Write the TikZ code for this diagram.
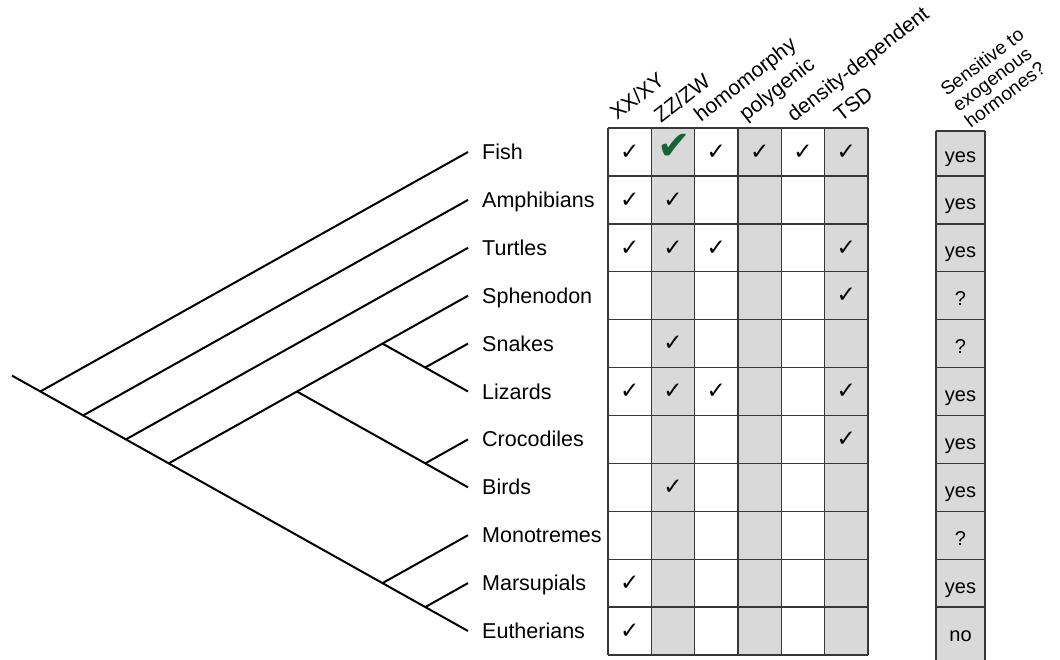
\documentclass[tikz,border=0pt]{standalone}
\usepackage{fontspec}
\setmainfont{Liberation Sans}
\newfontfamily\checkfont{DejaVu Sans}
\usepackage{tikz}

\definecolor{cellgray}{RGB}{217,217,217}
\definecolor{gridline}{RGB}{55,55,55}
\definecolor{checkgreen}{RGB}{22,100,52}

\begin{document}
\begin{tikzpicture}[x=1pt, y=-1pt,
    branch/.style={line width=2pt, black},
    cell/.style={line width=1.4pt, gridline},
    taxon/.style={anchor=west, inner xsep=14pt, inner ysep=0pt, text height=15pt, text depth=0pt, font=\fontsize{21.5}{25}\selectfont},
    trait/.style={anchor=base west, rotate=38, inner sep=0pt, font=\fontsize{21}{24}\selectfont},
    tick/.style={inner sep=0pt, font=\checkfont\bfseries\fontsize{23}{24}\selectfont},
    answer/.style={anchor=base, inner sep=0pt, font=\fontsize{20}{22}\selectfont}]
    \useasboundingbox (0,0) rectangle (1060,659);

    \coordinate (root) at (12,375.6);
    \coordinate (n1) at (40.3,391.5);
    \coordinate (n2) at (83.1,415.5);
    \coordinate (n3) at (125.9,439.4);
    \coordinate (n4) at (168.6,463.4);
    \coordinate (n5) at (296.9,391.5);
    \coordinate (n6) at (382.5,343.6);
    \coordinate (n7) at (425.2,367.5);
    \coordinate (n8) at (425.2,463.4);
    \coordinate (n9) at (382.5,583.1);
    \coordinate (n10) at (425.2,607.1);

    \node[taxon] (fish) at (468,152.0) {Fish};
    \node[taxon] (amph) at (468,199.9) {Amphibians};
    \node[taxon] (turt) at (468,247.8) {Turtles};
    \node[taxon] (sphen) at (468,295.7) {Sphenodon};
    \node[taxon] (snak) at (468,343.6) {Snakes};
    \node[taxon] (liz) at (468,391.5) {Lizards};
    \node[taxon] (croc) at (468,439.4) {Crocodiles};
    \node[taxon] (bird) at (468,487.3) {Birds};
    \node[taxon] (mono) at (468,535.2) {Monotremes};
    \node[taxon] (mars) at (468,583.1) {Marsupials};
    \node[taxon] (euth) at (468,631.0) {Eutherians};

    \draw[branch] (root) -- (euth.west);
    \draw[branch] (n1) -- (fish.west);
    \draw[branch] (n2) -- (amph.west);
    \draw[branch] (n3) -- (turt.west);
    \draw[branch] (n4) -- (sphen.west);
    \draw[branch] (n5) -- (bird.west);
    \draw[branch] (n6) -- (liz.west);
    \draw[branch] (n7) -- (snak.west);
    \draw[branch] (n8) -- (croc.west);
    \draw[branch] (n9) -- (mono.west);
    \draw[branch] (n10) -- (mars.west);

    \fill[cellgray] (651.3,128) rectangle (694.7,655);
    \fill[cellgray] (738,128) rectangle (781.3,655);
    \fill[cellgray] (824.7,128) rectangle (868,655);
    \fill[cellgray] (936,131) rectangle (985,662);

    \draw[cell] (608,128) -- (608,655);
    \draw[cell] (651.3,128) -- (651.3,655);
    \draw[cell] (694.7,128) -- (694.7,655);
    \draw[cell] (738,128) -- (738,655);
    \draw[cell] (781.3,128) -- (781.3,655);
    \draw[cell] (824.7,128) -- (824.7,655);
    \draw[cell] (868,128) -- (868,655);
    \draw[cell] (608,128) -- (868,128);
    \draw[cell] (608,175.9) -- (868,175.9);
    \draw[cell] (608,223.8) -- (868,223.8);
    \draw[cell] (608,271.7) -- (868,271.7);
    \draw[cell] (608,319.6) -- (868,319.6);
    \draw[cell] (608,367.5) -- (868,367.5);
    \draw[cell] (608,415.5) -- (868,415.5);
    \draw[cell] (608,463.4) -- (868,463.4);
    \draw[cell] (608,511.3) -- (868,511.3);
    \draw[cell] (608,559.2) -- (868,559.2);
    \draw[cell] (608,607.1) -- (868,607.1);
    \draw[cell] (608,655) -- (868,655);

    \draw[cell] (936,131) -- (936,662);
    \draw[cell] (985,131) -- (985,662);
    \draw[cell] (936,131) -- (985,131);
    \draw[cell] (936,175.9) -- (985,175.9);
    \draw[cell] (936,223.8) -- (985,223.8);
    \draw[cell] (936,271.7) -- (985,271.7);
    \draw[cell] (936,319.6) -- (985,319.6);
    \draw[cell] (936,367.5) -- (985,367.5);
    \draw[cell] (936,415.5) -- (985,415.5);
    \draw[cell] (936,463.4) -- (985,463.4);
    \draw[cell] (936,511.3) -- (985,511.3);
    \draw[cell] (936,559.2) -- (985,559.2);
    \draw[cell] (936,607.1) -- (985,607.1);

    \node[trait] (xx) at (617,121) {XX/XY};
    \node[trait] (zz) at (661,124) {ZZ/ZW};
    \node[trait] (homo) at (701,123) {homomorphy};
    \node[trait] (poly) at (746,122) {polygenic};
    \node[trait] (dens) at (794,123) {density-dependent};
    \node[trait] (tsd) at (841,123) {TSD};
    \node[anchor=south west, rotate=37, inner sep=0pt, align=left,
          font=\fontsize{19}{20}\selectfont] (sens) at (971,129)
          {Sensitive to\\exogenous\\hormones?};

    \node[tick] (fish-xx) at (629.7,152.0) {✓};
    \node[tick, text=checkgreen, font=\checkfont\bfseries\fontsize{40}{40}\selectfont] (fish-zz) at (674.5,147) {✔};
    \node[tick] (fish-homo) at (716.3,152.0) {✓};
    \node[tick] (fish-poly) at (759.7,152.0) {✓};
    \node[tick] (fish-dens) at (803,152.0) {✓};
    \node[tick] (fish-tsd) at (846.3,152.0) {✓};
    \node[tick] (amph-xx) at (629.7,199.9) {✓};
    \node[tick] (amph-zz) at (673,199.9) {✓};
    \node[tick] (turt-xx) at (629.7,247.8) {✓};
    \node[tick] (turt-zz) at (673,247.8) {✓};
    \node[tick] (turt-homo) at (716.3,247.8) {✓};
    \node[tick] (turt-tsd) at (846.3,247.8) {✓};
    \node[tick] (sphen-tsd) at (846.3,295.7) {✓};
    \node[tick] (snak-zz) at (673,343.6) {✓};
    \node[tick] (liz-xx) at (629.7,391.5) {✓};
    \node[tick] (liz-zz) at (673,391.5) {✓};
    \node[tick] (liz-homo) at (716.3,391.5) {✓};
    \node[tick] (liz-tsd) at (846.3,391.5) {✓};
    \node[tick] (croc-tsd) at (846.3,439.4) {✓};
    \node[tick] (bird-zz) at (673,487.3) {✓};
    \node[tick] (mars-xx) at (629.7,583.1) {✓};
    \node[tick] (euth-xx) at (629.7,631.0) {✓};

    \node[answer] (fish-ans) at (960.5,162) {yes};
    \node[answer] (amph-ans) at (960.5,209.9) {yes};
    \node[answer] (turt-ans) at (960.5,257.8) {yes};
    \node[answer] (sphen-ans) at (960.5,305.7) {?};
    \node[answer] (snak-ans) at (960.5,353.6) {?};
    \node[answer] (liz-ans) at (960.5,401.5) {yes};
    \node[answer] (croc-ans) at (960.5,449.4) {yes};
    \node[answer] (bird-ans) at (960.5,497.3) {yes};
    \node[answer] (mono-ans) at (960.5,545.2) {?};
    \node[answer] (mars-ans) at (960.5,593.1) {yes};
    \node[answer] (euth-ans) at (960.5,641) {no};
\end{tikzpicture}
\end{document}
